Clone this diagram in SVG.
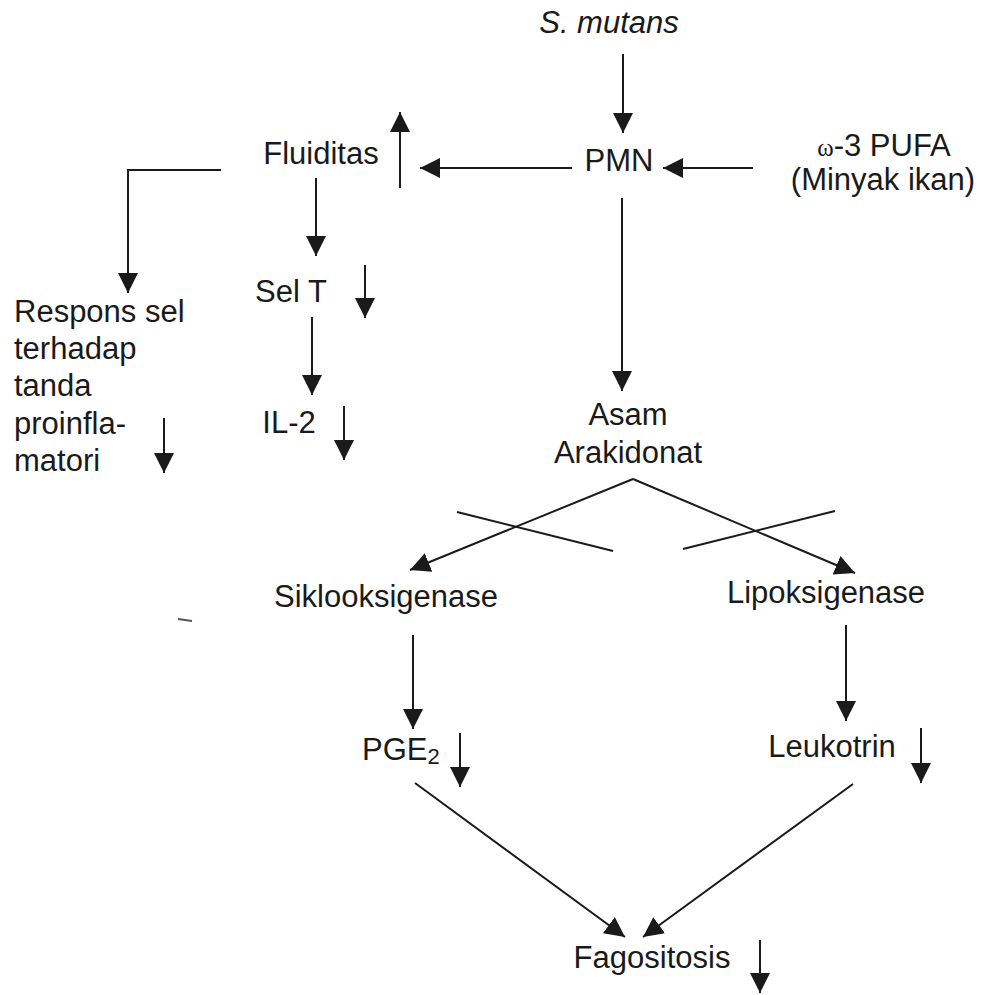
<svg xmlns="http://www.w3.org/2000/svg" width="982" height="995" viewBox="0 0 982 995">
<style>
  text { font-family: "Liberation Sans", Arial, sans-serif; font-size: 31px; fill: #1a1a1a; }
  .c { text-anchor: middle; }
  .conn line, .conn polyline { stroke: #1a1a1a; stroke-width: 2; fill: none; }
  .arr { marker-end: url(#ah); }
</style>
<defs>
  <marker id="ah" markerUnits="userSpaceOnUse" markerWidth="20" markerHeight="20" refX="20" refY="10" orient="auto" viewBox="0 0 20 20">
    <path d="M0,0 L20,10 L0,20 z" fill="#1a1a1a"/>
  </marker>
</defs>
<rect width="982" height="995" fill="#ffffff"/>

<g id="n-smutans"><text class="c" x="609" y="33" font-style="italic">S. mutans</text></g>
<g id="n-pmn"><text class="c" x="619" y="171">PMN</text></g>
<g id="n-pufa"><text class="c" x="884" y="156" font-size="29"><tspan font-family="Liberation Serif, serif" font-size="25">ω</tspan>-3 PUFA</text><text class="c" x="883" y="190" font-size="29">(Minyak ikan)</text></g>
<g id="n-fluiditas"><text class="c" x="321" y="164">Fluiditas</text></g>
<g id="n-selt"><text class="c" x="291" y="302">Sel T</text></g>
<g id="n-respons"><text x="14" y="322">Respons sel</text><text x="14" y="359">terhadap</text><text x="14" y="396">tanda</text><text x="14" y="434">proinfla-</text><text x="14" y="471">matori</text></g>
<g id="n-il2"><text class="c" x="289" y="433">IL-2</text></g>
<g id="n-asam"><text class="c" x="628" y="425">Asam</text><text class="c" x="628" y="463">Arakidonat</text></g>
<g id="n-siklo"><text class="c" x="386" y="607">Siklooksigenase</text></g>
<g id="n-lipo"><text class="c" x="826" y="603">Lipoksigenase</text></g>
<g id="n-pge2"><text x="362" y="760">PGE<tspan font-size="22" dy="4">2</tspan></text></g>
<g id="n-leuko"><text class="c" x="832" y="757">Leukotrin</text></g>
<g id="n-fago"><text class="c" x="652" y="968">Fagositosis</text></g>

<g id="connectors" class="conn">
  <line class="arr" x1="623" y1="54" x2="623" y2="133"/>
  <line class="arr" x1="753" y1="168" x2="663" y2="168"/>
  <line class="arr" x1="572" y1="168" x2="420" y2="168"/>
  <line class="arr" x1="400" y1="188" x2="400" y2="112"/>
  <line class="arr" x1="316" y1="178" x2="316" y2="256"/>
  <polyline class="arr" points="221,170 128,170 128,293"/>
  <line class="arr" x1="365" y1="265" x2="365" y2="318"/>
  <line class="arr" x1="312" y1="317" x2="312" y2="395"/>
  <line class="arr" x1="344" y1="406" x2="344" y2="460"/>
  <line class="arr" x1="164" y1="418" x2="164" y2="473"/>
  <line class="arr" x1="622" y1="198" x2="622" y2="391"/>
  <line class="arr" x1="633" y1="479" x2="410" y2="570"/>
  <line class="arr" x1="633" y1="479" x2="855" y2="573"/>
  <line x1="457" y1="512" x2="613" y2="551"/>
  <line x1="683" y1="549" x2="835" y2="511"/>
  <line class="arr" x1="413" y1="635" x2="413" y2="729"/>
  <line class="arr" x1="846" y1="625" x2="846" y2="721"/>
  <line class="arr" x1="460" y1="733" x2="460" y2="787"/>
  <line class="arr" x1="921" y1="728" x2="921" y2="783"/>
  <line class="arr" x1="415" y1="783" x2="625" y2="937"/>
  <line class="arr" x1="853" y1="784" x2="643" y2="937"/>
  <line class="arr" x1="760" y1="940" x2="760" y2="993"/>
</g>
<line x1="178" y1="619" x2="192" y2="621" stroke="#555" stroke-width="2"/>
</svg>
